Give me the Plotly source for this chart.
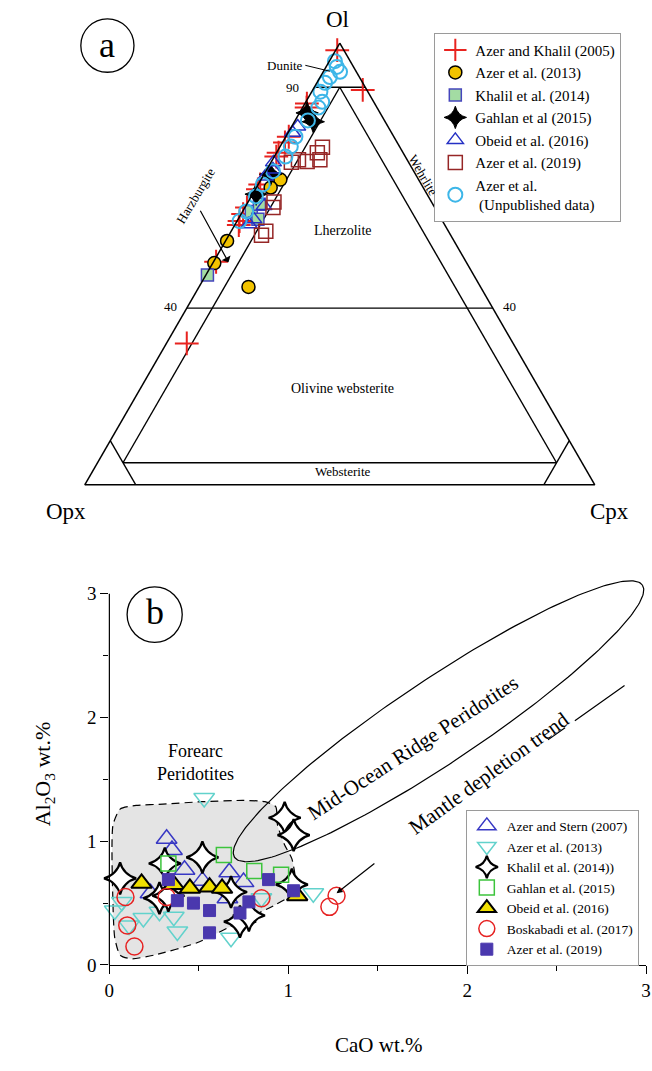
import numpy as np
import plotly.graph_objects as go

W, H = 652, 1071
SERIF = "Liberation Serif, Times New Roman, serif"

# ---------------- (a) modal Ol-Opx-Cpx, percent ----------------
ak05_ol = [98.4, 89.4, 86.3, 85.4, 78.8, 77.5, 75.2, 74.3, 68.0, 66.9, 62.8, 61.3, 59.7, 58.8, 50.5, 32.0]
ak05_opx = [1.3, 0.8, 13.3, 13.8, 20.6, 22.0, 24.4, 25.3, 31.6, 32.6, 36.8, 38.3, 39.8, 40.4, 49.0, 64.0]
ak05_cpx = [0.3, 9.8, 0.4, 0.8, 0.6, 0.5, 0.4, 0.4, 0.4, 0.5, 0.4, 0.4, 0.5, 0.8, 0.5, 4.0]

az13_ol = [69.1, 67.3, 55.2, 50.2, 44.8]
az13_opx = [27.1, 29.9, 44.5, 49.5, 45.5]
az13_cpx = [3.8, 2.8, 0.3, 0.3, 9.7]

kh14_ol = [47.5, 61.9, 60.1, 63.5]
kh14_opx = [52.2, 36.4, 36.0, 34.0]
kh14_cpx = [0.3, 1.7, 3.9, 2.5]

ga15_ol = [84.2, 82.2, 70.3, 65.8]
ga15_opx = [14.3, 14.1, 28.4, 33.5]
ga15_cpx = [1.5, 3.7, 1.3, 0.7]

ob16_ol = [81.1, 79.7, 73.0, 71.4, 69.8, 63.1, 60.1, 59.0]
ob16_opx = [17.7, 19.4, 26.5, 27.4, 29.7, 33.3, 36.8, 38.3]
ob16_cpx = [1.2, 0.9, 0.5, 1.2, 0.5, 3.6, 3.1, 2.7]

az19_ol = [76.4, 75.2, 73.6, 73.2, 73.6, 73.0, 64.0, 62.8, 57.4, 56.5]
az19_opx = [15.2, 16.8, 17.1, 19.8, 21.3, 23.0, 30.9, 31.7, 35.8, 37.1]
az19_cpx = [8.4, 8.0, 9.3, 7.0, 5.1, 4.0, 5.1, 5.5, 6.8, 6.4]

azun_ol = [95.9, 94.6, 93.5, 92.3, 91.0, 89.0, 86.7, 85.4, 82.5, 78.8, 76.6, 74.3, 71.0, 68.0, 65.3, 61.9, 59.7]
azun_opx = [3.0, 3.3, 3.2, 5.8, 7.4, 9.3, 10.1, 11.5, 15.0, 19.3, 21.3, 23.5, 27.6, 31.1, 33.8, 37.4, 39.8]
azun_cpx = [1.1, 2.1, 3.3, 1.9, 1.6, 1.7, 3.2, 3.1, 2.5, 1.9, 2.1, 2.2, 1.4, 0.9, 0.9, 0.7, 0.5]

# classification boundaries (Ol, Opx, Cpx end points)
field_lines = [
    ((90, 10, 0), (90, 0, 10)),     # dunite
    ((90, 5, 5), (5, 90, 5)),       # 5 % Cpx
    ((90, 5, 5), (5, 5, 90)),       # 5 % Opx
    ((40, 60, 0), (40, 0, 60)),     # 40 % Ol
    ((5, 90, 5), (5, 5, 90)),       # websterite
    ((10, 90, 0), (0, 90, 10)),     # orthopyroxenite corner
    ((10, 0, 90), (0, 10, 90)),     # clinopyroxenite corner
]

# ---------------- (b) CaO vs Al2O3 (wt.%) ----------------
as07_cao = [0.32, 0.35, 0.42, 0.23, 0.67, 0.75, 0.66, 0.52]
as07_al = [1.02, 0.93, 0.77, 0.58, 0.75, 0.67, 0.54, 0.68]

az13b_cao = [0.53, 0.03, 0.11, 0.19, 0.28, 0.36, 0.38, 0.68, 1.14, 0.85, 0.07]
az13b_al = [1.35, 0.44, 0.32, 0.38, 0.43, 0.39, 0.27, 0.22, 0.58, 0.54, 0.51]

kh14b_cao = [0.06, 0.31, 0.52, 0.28, 0.33, 0.73, 0.98, 1.03, 1.02, 0.68, 0.78]
kh14b_al = [0.70, 0.82, 0.87, 0.54, 0.56, 0.35, 1.19, 1.05, 0.65, 0.59, 0.40]

ga15b_cao = [0.33, 0.64, 0.81, 0.96]
ga15b_al = [0.82, 0.89, 0.76, 0.73]

ob16b_cao = [0.18, 0.36, 0.45, 0.56, 0.63, 1.05]
ob16b_al = [0.66, 0.65, 0.62, 0.63, 0.62, 0.56]

bo17_cao = [0.09, 0.32, 0.10, 0.14, 0.85, 1.27, 1.23]
bo17_al = [0.55, 0.55, 0.32, 0.15, 0.54, 0.56, 0.47]

az19b_cao = [0.33, 0.47, 0.56, 0.78, 0.73, 0.89, 1.03, 0.56, 0.38]
az19b_al = [0.69, 0.50, 0.44, 0.51, 0.42, 0.69, 0.60, 0.26, 0.52]

# forearc peridotite field outline
forearc_cao = [0.02, 0.06, 0.15, 0.30, 0.52, 0.75, 0.87, 0.93, 0.94, 0.98, 1.02, 1.04, 1.04, 0.92,
               0.73, 0.49, 0.25, 0.12, 0.06, 0.03, 0.02, 0.02]
forearc_al = [1.13, 1.26, 1.29, 1.30, 1.32, 1.33, 1.32, 1.28, 1.13, 0.97, 0.86, 0.70, 0.59, 0.48,
              0.35, 0.18, 0.08, 0.05, 0.08, 0.22, 0.50, 1.13]

# abyssal (mid-ocean ridge) peridotite ellipse: centre and conjugate semi-axes
mor_centre = (1.84, 1.97)
mor_major = (1.14, 1.10)
mor_minor = (0.129, -0.282)

# mantle depletion trend (upper end, arrow tail, arrow tip)
trend_cao = [2.88, 1.49, 1.27]
trend_al = [2.26, 0.83, 0.58]

fig = go.Figure()

# ---------- ternary traces ----------
for (p0, p1) in field_lines:
    fig.add_trace(go.Scatterternary(
        a=[p0[0], p1[0]], b=[p0[1], p1[1]], c=[p0[2], p1[2]], mode="lines",
        line=dict(color="black", width=1.4), showlegend=False, hoverinfo="skip"))


def tern(name, a, b, c, symbol, size, color, lcolor, lw):
    fig.add_trace(go.Scatterternary(
        a=a, b=b, c=c, mode="markers", name=name, cliponaxis=False, legend="legend",
        marker=dict(symbol=symbol, size=size, color=color,
                    line=dict(color=lcolor, width=lw))))


tern("Azer and Khalil (2005)", ak05_ol, ak05_opx, ak05_cpx, "cross-thin", 17, "#e8231f", "#e8231f", 2)
tern("Azer et al. (2013)", az13_ol, az13_opx, az13_cpx, "circle", 13, "#f2c300", "black", 1.5)
tern("Khalil et al. (2014)", kh14_ol, kh14_opx, kh14_cpx, "square", 12, "#a3dca3", "#4646bd", 1.5)
tern("Gahlan et al (2015)", ga15_ol, ga15_opx, ga15_cpx, "star-diamond", 16, "black", "black", 1)
tern("Obeid et al. (2016)", ob16_ol, ob16_opx, ob16_cpx, "triangle-up-open", 14, "#2530c4", "#2530c4", 1.5)
tern("Azer et al. (2019)", az19_ol, az19_opx, az19_cpx, "square-open", 14, "#962626", "#962626", 1.5)
tern("Azer et al.<br> (Unpublished data)", azun_ol, azun_opx, azun_cpx, "circle-open", 14, "#3db6e8", "#3db6e8", 2)

# ---------- Cartesian panel ----------
fig.add_trace(go.Scatter(
    x=forearc_cao, y=forearc_al, mode="lines", fill="toself", fillcolor="#e4e4e4",
    line=dict(color="black", width=1.2, dash="8px,5px", shape="spline", smoothing=0.6),
    showlegend=False, hoverinfo="skip"))

t = np.linspace(0, 2 * np.pi, 240)
ell_x = mor_centre[0] + np.cos(t) * mor_major[0] + np.sin(t) * mor_minor[0]
ell_y = mor_centre[1] + np.cos(t) * mor_major[1] + np.sin(t) * mor_minor[1]
fig.add_trace(go.Scatter(x=ell_x, y=ell_y, mode="lines", line=dict(color="black", width=1.2),
                         showlegend=False, hoverinfo="skip"))

# dashed trend up to the arrow tail; the arrow itself is an annotation
fig.add_trace(go.Scatter(x=trend_cao[:2], y=trend_al[:2], mode="lines",
                         line=dict(color="black", width=1.2, dash="61px,12px,21px,400px"),
                         showlegend=False, hoverinfo="skip"))


def cart(name, x, y, symbol, size, color, lcolor, lw):
    fig.add_trace(go.Scatter(
        x=x, y=y, mode="markers", name=name, cliponaxis=False, legend="legend2",
        marker=dict(symbol=symbol, size=size, color=color,
                    line=dict(color=lcolor, width=lw))))


cart("Azer and Stern (2007)", as07_cao, as07_al, "triangle-up-open", 18, "#3838c4", "#3838c4", 1.5)
cart("Azer et al. (2013)", az13b_cao, az13b_al, "triangle-down-open", 18, "#62d2cc", "#62d2cc", 1.5)
cart("Khalil et al. (2014))", kh14b_cao, kh14b_al, "star-diamond", 23, "white", "black", 2.2)
cart("Gahlan et al. (2015)", ga15b_cao, ga15b_al, "square-open", 15, "#3cc43c", "#3cc43c", 1.5)
cart("Obeid et al. (2016)", ob16b_cao, ob16b_al, "triangle-up", 18, "#f0df00", "black", 2)
cart("Boskabadi et al. (2017)", bo17_cao, bo17_al, "circle-open", 17, "#e62222", "#e62222", 1.5)
cart("Azer et al. (2019)", az19b_cao, az19b_al, "square", 12, "#4a38ae", "#4a38ae", 1)

tern_axis = dict(showgrid=False, showticklabels=False, ticks="", linecolor="black",
                 linewidth=1.5, title=dict(text=""))


def px(xp, yp):
    return xp / W, 1 - yp / H


def label(text, xp, yp, size=14, angle=0, **kw):
    x, y = px(xp, yp)
    d = dict(text=text, x=x, y=y, xref="paper", yref="paper", showarrow=False,
             xanchor="center", yanchor="middle",
             font=dict(family=SERIF, size=size, color="black"), textangle=angle)
    d.update(kw)
    return d


annotations = [
    label("Ol", 338, 20, 23),
    label("Opx", 62, 517, 23),
    label("Cpx", 614, 517, 23),
    label("a", 104, 45, 36),
    label("b", 152, 618, 36),
    label("90", 292, 88, 13),
    label("40", 168, 310, 13),
    label("40", 512, 310, 13),
    label("Dunite", 284, 66, 13),
    label("Harzburgite", 194, 198, 13, -59),
    label("Wehrlite", 425, 177, 13, 60),
    label("Lherzolite", 343, 233, 14),
    label("Olivine websterite", 343, 393, 14),
    label("Websterite", 343, 476, 13),
    label("Forearc<br>Peridotites", 193, 770, 18),
    label("Mid-Ocean Ridge Peridotites", 414, 756, 21, -33),
    label("Mantle depletion trend", 492, 781, 21, -36),
    label("Al<sub>2</sub>O<sub>3</sub> wt.%", 40, 782, 22, -90),
    label("CaO wt.%", 380, 1056, 21),
]

# pointer arrows
hx, hy = px(227, 265)
annotations.append(dict(x=hx, y=hy, xref="paper", yref="paper", ax=-29, ay=-53, showarrow=True,
                        arrowhead=1, arrowsize=1.4, arrowwidth=1.2, arrowcolor="black", text=""))
annotations.append(dict(x=trend_cao[2], y=trend_al[2], xref="x", yref="y",
                        ax=trend_cao[1], ay=trend_al[1], axref="x", ayref="y", showarrow=True,
                        arrowhead=2, arrowsize=1, arrowwidth=1.2, arrowcolor="black", text=""))

shapes = []
x0, y0 = px(77, 73)
x1, y1 = px(131, 19)
shapes.append(dict(type="circle", xref="paper", yref="paper", x0=x0, y0=y0, x1=x1, y1=y1,
                   line=dict(color="black", width=1.3)))
x0, y0 = px(124, 649)
x1, y1 = px(180, 593)
shapes.append(dict(type="circle", xref="paper", yref="paper", x0=x0, y0=y0, x1=x1, y1=y1,
                   line=dict(color="black", width=1.3)))
x0, y0 = px(305, 66)
x1, y1 = px(330, 72)
shapes.append(dict(type="line", xref="paper", yref="paper", x0=x0, y0=y0, x1=x1, y1=y1,
                   line=dict(color="black", width=1)))
# left axis line, stopping at the last labelled tick
shapes.append(dict(type="line", xref="x domain", yref="y", x0=0, x1=0, y0=0, y1=3,
                   line=dict(color="black", width=1.2)))

axis_font = dict(family=SERIF, size=19, color="black")
Y0_PX, Y3_PX = 975.0, 600.0
Y_TOP = 3.15
y_top_px = Y3_PX - (Y0_PX - Y3_PX) / 3 * (Y_TOP - 3)

fig.update_layout(
    width=W, height=H, margin=dict(l=0, r=0, t=0, b=0),
    paper_bgcolor="white", plot_bgcolor="rgba(0,0,0,0)",
    font=dict(family=SERIF, color="black"),
    ternary=dict(domain=dict(x=[81 / W, 599 / W], y=[1 - 491 / H, 1 - 42.4 / H]),
                 sum=100, bgcolor="rgba(0,0,0,0)",
                 aaxis=tern_axis, baxis=tern_axis, caxis=tern_axis),
    xaxis=dict(domain=[106 / W, 651 / W], range=[0, 3], tickvals=[0, 1, 2, 3],
               showline=True, linecolor="black", linewidth=1.2, ticks="outside", ticklen=8,
               tickcolor="black", showgrid=False, zeroline=False, tickfont=axis_font,
               ticklabeloverflow="allow",
               minor=dict(dtick=0.5, ticks="outside", ticklen=5, tickcolor="black")),
    yaxis=dict(domain=[1 - Y0_PX / H, 1 - y_top_px / H], range=[0, Y_TOP], tickvals=[0, 1, 2, 3],
               showline=False, ticks="outside", ticklen=8,
               tickcolor="black", showgrid=False, zeroline=False, tickfont=axis_font,
               minor=dict(tickvals=[0.5, 1.5, 2.5], ticks="outside", ticklen=5, tickcolor="black")),
    legend=dict(x=436 / W, y=1 - 33 / H, xanchor="left", yanchor="top",
                bgcolor="white", bordercolor="#9a9a9a", borderwidth=1,
                font=dict(family=SERIF, size=15, color="black"), itemwidth=30,
                tracegroupgap=0),
    legend2=dict(x=468 / W, y=1 - 818 / H, xanchor="left", yanchor="top",
                 bgcolor="white", bordercolor="#9a9a9a", borderwidth=1,
                 font=dict(family=SERIF, size=13.5, color="black"), itemwidth=30,
                 tracegroupgap=0),
    annotations=annotations,
    shapes=shapes,
)

fig.write_html("out.html")
